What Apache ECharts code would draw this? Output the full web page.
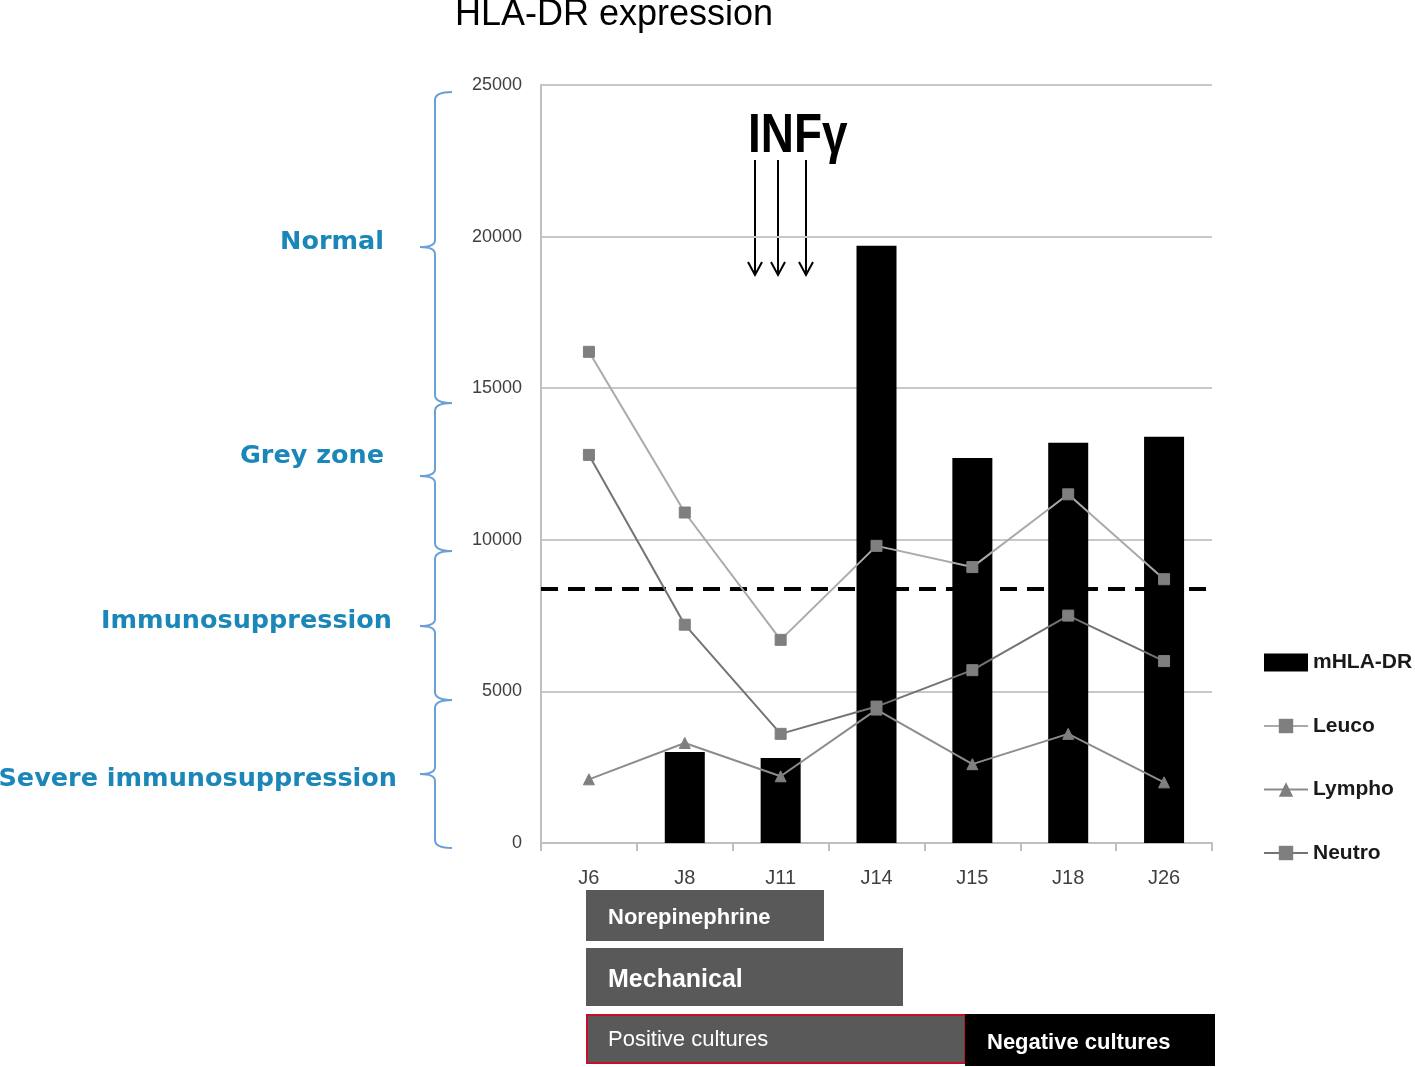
<!DOCTYPE html>
<html>
<head>
<meta charset="utf-8">
<script src="https://cdn.jsdelivr.net/npm/echarts@6/dist/echarts.min.js"></script>
<style>html,body{margin:0;padding:0;background:#fff}#c{width:1415px;height:1067px}</style>
</head>
<body>
<div id="c"></div>
<script>
const categories = ['J6','J8','J11','J14','J15','J18','J26'];
const mHLADR = [null, 3000, 2800, 19700, 12700, 13200, 13400];
const leuco  = [16200, 10900, 6700, 9800, 9100, 11500, 8700];
const lympho = [2100, 3300, 2200, 4400, 2600, 3600, 2000];
const neutro = [12800, 7200, 3600, 4500, 5700, 7500, 6000];
const threshold = 8400;
const yTicks = [0, 5000, 10000, 15000, 20000, 25000];

const chart = echarts.init(document.getElementById('c'));
const sans = '"Liberation Sans", Arial, sans-serif';
const blue = '#1b87b8';
const braceColor = '#6a9fd8';

function brace(y1, tip, y2) {
  const x = 435, hx = 452, tx = 420;
  const st = {stroke:braceColor, lineWidth:2, fill:null};
  return [
    {type:'bezierCurve', shape:{x1:hx, y1:y1, x2:x, y2:y1+8, cpx1:x, cpy1:y1}, style:st},
    {type:'line', shape:{x1:x, y1:y1+8, x2:x, y2:tip-7}, style:st},
    {type:'bezierCurve', shape:{x1:x, y1:tip-7, x2:tx, y2:tip, cpx1:x, cpy1:tip}, style:st},
    {type:'bezierCurve', shape:{x1:tx, y1:tip, x2:x, y2:tip+7, cpx1:x, cpy1:tip}, style:st},
    {type:'line', shape:{x1:x, y1:tip+7, x2:x, y2:y2-8}, style:st},
    {type:'bezierCurve', shape:{x1:x, y1:y2-8, x2:hx, y2:y2, cpx1:x, cpy1:y2}, style:st}
  ];
}
function arrow(x) {
  return [
    {type:'line', shape:{x1:x, y1:160, x2:x, y2:274}, style:{stroke:'#000', lineWidth:2}},
    {type:'polyline', shape:{points:[[x-7,262],[x,275],[x+7,262]]}, style:{stroke:'#000', lineWidth:2, fill:null}}
  ];
}
function txt(x, y, text, font, fill, align, sx) {
  return {type:'text', x:x, y:y, scaleX: sx || 1,
    style:{text:text, font:font, fill:fill, textAlign:align || 'left', textVerticalAlign:'middle'}};
}
const zoneFont = 'bold 25.5px "DejaVu Sans", sans-serif';

const graphics = [
  txt(455, 15, 'HLA-DR expression', '36px ' + sans, '#000'),
  txt(748, 137, 'INFγ', 'bold 56px ' + sans, '#000', 'left', 0.82),
  ...arrow(755), ...arrow(778), ...arrow(806),
  ...brace(92,247,403), ...brace(403,476,551), ...brace(551,626,700), ...brace(700,774,848),
  txt(384, 242, 'Normal', zoneFont, blue, 'right'),
  txt(384, 456, 'Grey zone', zoneFont, blue, 'right'),
  txt(392, 621, 'Immunosuppression', zoneFont, blue, 'right'),
  txt(397, 779, 'Severe immunosuppression', zoneFont, blue, 'right'),
  {type:'rect', shape:{x:586, y:890, width:238, height:51}, style:{fill:'#595959'}},
  txt(608, 918, 'Norepinephrine', 'bold 22px ' + sans, '#fff'),
  {type:'rect', shape:{x:586, y:948, width:317, height:58}, style:{fill:'#595959'}},
  txt(608, 980, 'Mechanical', 'bold 25px ' + sans, '#fff'),
  {type:'rect', shape:{x:587, y:1015, width:378, height:48}, style:{fill:'#595959', stroke:'#c0102a', lineWidth:2}},
  txt(608, 1040, 'Positive cultures', '22px ' + sans, '#fff'),
  {type:'rect', shape:{x:965, y:1014, width:250, height:52}, style:{fill:'#000'}},
  txt(987, 1043, 'Negative cultures', 'bold 22px ' + sans, '#fff')
];

chart.setOption({
  animation: false,
  backgroundColor: '#fff',
  grid: {left:541, right:203, top:85, bottom:224, containLabel:false},
  legend: {
    orient:'vertical', left:1263, top:652, padding:0, itemWidth:44, itemHeight:18, itemGap:42.5,
    textStyle:{fontSize:21, fontWeight:'bold', fontFamily:sans, color:'#1a1a1a'},
    data:[
      {name:'mHLA-DR', icon:'rect'},
      {name:'Leuco'}, {name:'Lympho'}, {name:'Neutro'}
    ]
  },
  xAxis: {
    type:'category', data:categories,
    axisLine:{lineStyle:{color:'#bfbfbf', width:2}},
    axisTick:{show:true, length:8, lineStyle:{color:'#bfbfbf', width:2}},
    axisLabel:{margin:25, fontSize:20, fontFamily:sans, color:'#404040'}
  },
  yAxis: {
    type:'value', min:0, max:25000, interval:5000,
    axisLine:{show:true, lineStyle:{color:'#bfbfbf', width:2}},
    axisTick:{show:false},
    axisLabel:{margin:19, fontSize:18, fontFamily:sans, color:'#404040',
      formatter: v => yTicks.includes(v) ? String(v) : ''},
    splitLine:{lineStyle:{color:'#c8c8c8', width:2}}
  },
  series: [
    {name:'mHLA-DR', type:'bar', data:mHLADR, barWidth:40, itemStyle:{color:'#000'}, z:2,
     markLine:{silent:true, symbol:'none', label:{show:false},
       lineStyle:{color:'#000', width:4, type:[17,10]},
       data:[{yAxis:threshold}]}},
    {name:'Leuco', type:'line', data:leuco, symbol:'rect', symbolSize:11, z:5,
     lineStyle:{color:'#aaaaaa', width:2}, itemStyle:{color:'#7f7f7f', borderColor:'#7f7f7f'}},
    {name:'Lympho', type:'line', data:lympho, symbol:'triangle', symbolSize:11, z:5,
     lineStyle:{color:'#8c8c8c', width:2}, itemStyle:{color:'#7f7f7f', borderColor:'#7f7f7f'}},
    {name:'Neutro', type:'line', data:neutro, symbol:'rect', symbolSize:11, z:5,
     lineStyle:{color:'#737373', width:2}, itemStyle:{color:'#7f7f7f', borderColor:'#7f7f7f'}}
  ],
  graphic: graphics
});
</script>
</body>
</html>
